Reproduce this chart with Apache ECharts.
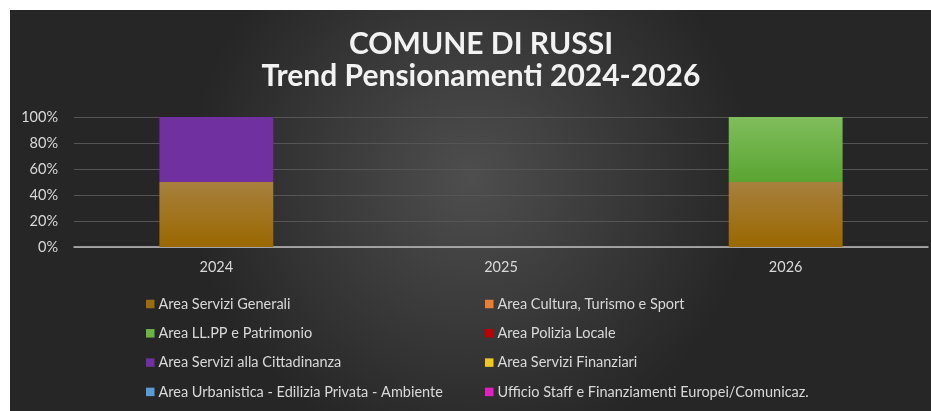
<!DOCTYPE html>
<html><head><meta charset="utf-8">
<script src="https://cdn.jsdelivr.net/npm/echarts@6/dist/echarts.min.js"></script>
<style>html,body{margin:0;padding:0;background:#fff}#c{width:931px;height:411px}</style>
</head><body><div id="c"></div>
<script>
const categories = ['2024', '2025', '2026'];
const seriesNames = [
  'Area Servizi Generali', 'Area Cultura, Turismo e Sport',
  'Area LL.PP e Patrimonio', 'Area Polizia Locale',
  'Area Servizi alla Cittadinanza', 'Area Servizi Finanziari',
  'Area Urbanistica - Edilizia Privata - Ambiente', 'Ufficio Staff e Finanziamenti Europei/Comunicaz.'
];
// percentage share per year
const serviziGenerali = [50, 0, 50];
const culturaTurismo = [0, 0, 0];
const llppPatrimonio = [0, 0, 50];
const poliziaLocale = [0, 0, 0];
const serviziCittadinanza = [50, 0, 0];
const serviziFinanziari = [0, 0, 0];
const urbanistica = [0, 0, 0];
const ufficioStaff = [0, 0, 0];
const yTicks = [0, 20, 40, 60, 80, 100];

const values = [serviziGenerali, culturaTurismo, llppPatrimonio, poliziaLocale,
  serviziCittadinanza, serviziFinanziari, urbanistica, ufficioStaff];
const lg = (a, b) => ({type: 'linear', x: 0, y: 0, x2: 0, y2: 1, colorStops: [{offset: 0, color: a}, {offset: 1, color: b}]});
const colors = [
  lg('#a8803e', '#9a6800'), '#ED7D31', lg('#80bd5c', '#5aa532'), '#C00000',
  '#7030A0', '#F2C81E', '#5B9BD5', '#E020C0'
];
const legendColors = ['#9c6d10', '#ED7D31', '#6ab545', '#C00000', '#7030A0', '#F2C81E', '#5B9BD5', '#E020C0'];

const chart = echarts.init(document.getElementById('c'));
const legendText = {color: '#d9d9d9', fontSize: 14.5, fontFamily: 'Lato', lineHeight: 16, padding: [0, 0, 0, -1]};
const legendBase = {orient: 'vertical', top: 296, height: 140, padding: 0, itemGap: 13.3, itemWidth: 8.5, itemHeight: 8.5, icon: 'rect',
  textStyle: legendText, selectedMode: false};
chart.setOption({
  backgroundColor: '#ffffff',
  graphic: [{
    type: 'rect', z: -10, silent: true,
    shape: {x: 10, y: 10, width: 921, height: 401},
    style: {fill: {type: 'radial', x: 0.5, y: 0.42, r: 0.7,
      colorStops: [{offset: 0, color: '#4e4e4e'}, {offset: 1, color: '#262626'}]}}
  }],
  title: {
    text: 'COMUNE DI RUSSI\nTrend Pensionamenti 2024-2026',
    left: 476, top: 23.5, textAlign: 'center',
    textStyle: {color: '#f2f2f2', fontSize: 30, fontWeight: 'bold', fontFamily: 'Lato', lineHeight: 32}
  },
  legend: [
    Object.assign({left: 146, data: [0, 2, 4, 6].map(i => ({name: seriesNames[i], itemStyle: {color: legendColors[i]}}))}, legendBase),
    Object.assign({left: 485, data: [1, 3, 5, 7].map(i => ({name: seriesNames[i], itemStyle: {color: legendColors[i]}}))}, legendBase)
  ],
  grid: {left: 74, right: 3, top: 117, bottom: 164},
  xAxis: {
    type: 'category', data: categories,
    axisLine: {lineStyle: {color: '#bfbfbf', width: 1.5}},
    axisTick: {show: false},
    axisLabel: {color: '#d9d9d9', fontSize: 14.5, fontFamily: 'Lato', margin: 13}
  },
  yAxis: {
    type: 'value', min: 0, max: 100, interval: 20,
    axisLabel: {color: '#d9d9d9', fontSize: 14.5, fontFamily: 'Lato', margin: 16,
      formatter: v => yTicks.includes(v) ? v + '%' : ''},
    splitLine: {lineStyle: {color: '#555555', width: 1}},
    axisLine: {show: false}, axisTick: {show: false}
  },
  series: seriesNames.map((n, i) => ({
    name: n, type: 'bar', stack: 'total', barWidth: '40%',
    itemStyle: {color: colors[i]},
    data: values[i]
  }))
});
</script></body></html>
